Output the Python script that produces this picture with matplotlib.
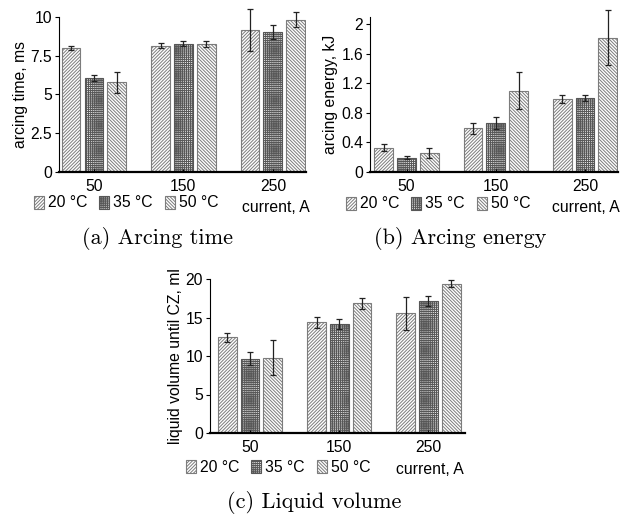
import numpy as np
import matplotlib
matplotlib.use("Agg")
import matplotlib.pyplot as plt
from matplotlib.patches import Patch

# data
currents = ["50", "150", "250"]
temps = ["20 °C", "35 °C", "50 °C"]

time_mean = [[8.0, 8.16, 9.18], [6.05, 8.29, 9.03], [5.79, 8.25, 9.83]]
time_err = [[0.15, 0.18, 1.36], [0.2, 0.15, 0.44], [0.67, 0.2, 0.49]]

energy_mean = [[0.33, 0.59, 0.99], [0.19, 0.66, 1.0], [0.26, 1.10, 1.82]]
energy_err = [[0.043, 0.08, 0.052], [0.02, 0.084, 0.043], [0.064, 0.25, 0.37]]

volume_mean = [[12.45, 14.4, 15.53], [9.67, 14.1, 17.09], [9.8, 16.83, 19.4]]
volume_err = [[0.6, 0.7, 2.1], [0.9, 0.65, 0.65], [2.3, 0.74, 0.45]]

hatches = ["/" * 10, "+" * 8, "\\" * 10]
edges = ["#7c7c7c", "#575757", "#7c7c7c"]
faces = ["white", "#e6e6e6", "white"]

plt.rcParams["font.family"] = ["Liberation Sans", "DejaVu Sans"]
plt.rcParams["hatch.linewidth"] = 0.7
plt.rcParams["font.size"] = 11.3

fig = plt.figure(figsize=(6.2, 5.14), dpi=100)
W, H = 620.0, 514.0


def panel(rect, means, errs, ylim, yticks, yticklabels, ylabel, xlim,
          leg_xy, unit_xy, caption, cap_xy):
    ax = fig.add_axes(rect)
    x = np.arange(len(currents))
    for i in range(3):
        bars = ax.bar(x + (i - 1) * 0.255, means[i], 0.21, yerr=errs[i], color=faces[i],
                      edgecolor=edges[i], linewidth=0.8, hatch=hatches[i],
                      error_kw=dict(ecolor="#222222", elinewidth=0.9, capsize=2.2, capthick=0.9))
        for line in bars.errorbar.lines[1] + bars.errorbar.lines[2]:
            line.set_clip_on(False)
    ax.set_xlim(*xlim)
    ax.set_ylim(*ylim)
    ax.set_yticks(yticks)
    ax.set_yticklabels(yticklabels)
    ax.set_xticks(x)
    ax.set_xticklabels(currents)
    ax.set_ylabel(ylabel, labelpad=2)
    for s in ["top", "right"]:
        ax.spines[s].set_visible(False)
    ax.spines["bottom"].set_linewidth(1.6)
    ax.spines["left"].set_linewidth(0.8)
    ax.tick_params(axis="x", direction="in", length=2, pad=5)
    ax.tick_params(axis="y", length=3, width=0.8, pad=2)
    handles = [Patch(facecolor=faces[i], edgecolor=edges[i], hatch=hatches[i], linewidth=0.8)
               for i in range(3)]
    ax.legend(handles, temps, loc="center left", bbox_to_anchor=leg_xy,
              bbox_transform=fig.transFigure, ncol=3, frameon=False,
              handlelength=0.65, handleheight=0.9, handletextpad=0.25,
              columnspacing=0.75, borderaxespad=0, borderpad=0)
    fig.text(unit_xy[0], unit_xy[1], "current, A", ha="center", va="center")
    fig.text(cap_xy[0], cap_xy[1], caption, family="cmr10", fontsize=16,
             ha="center", va="center")
    return ax


panel([59 / W, 1 - 172 / H, 247 / W, 155 / H], time_mean, time_err,
      (0, 10), [0, 2.5, 5, 7.5, 10], ["0", "2.5", "5", "7.5", "10"],
      "arcing time, ms", (-0.39, 2.37), (34 / W, 1 - 203 / H), (276 / W, 1 - 207 / H),
      "(a) Arcing time", (157 / W, 1 - 238 / H))

panel([370 / W, 1 - 172 / H, 248 / W, 155 / H], energy_mean, energy_err,
      (0, 2.1), [0, 0.4, 0.8, 1.2, 1.6, 2], ["0", "0.4", "0.8", "1.2", "1.6", "2"],
      "arcing energy, kJ", (-0.41, 2.37), (346 / W, 1 - 204 / H), (586 / W, 1 - 207 / H),
      "(b) Arcing energy", (460 / W, 1 - 238 / H))

panel([210 / W, 1 - 433 / H, 255 / W, 154 / H], volume_mean, volume_err,
      (0, 20), [0, 5, 10, 15, 20], ["0", "5", "10", "15", "20"],
      "liquid volume until CZ, ml", (-0.45, 2.41), (186 / W, 1 - 467 / H), (430 / W, 1 - 469 / H),
      "(c) Liquid volume", (314 / W, 1 - 503 / H))

fig.savefig("out.png", dpi=100)
